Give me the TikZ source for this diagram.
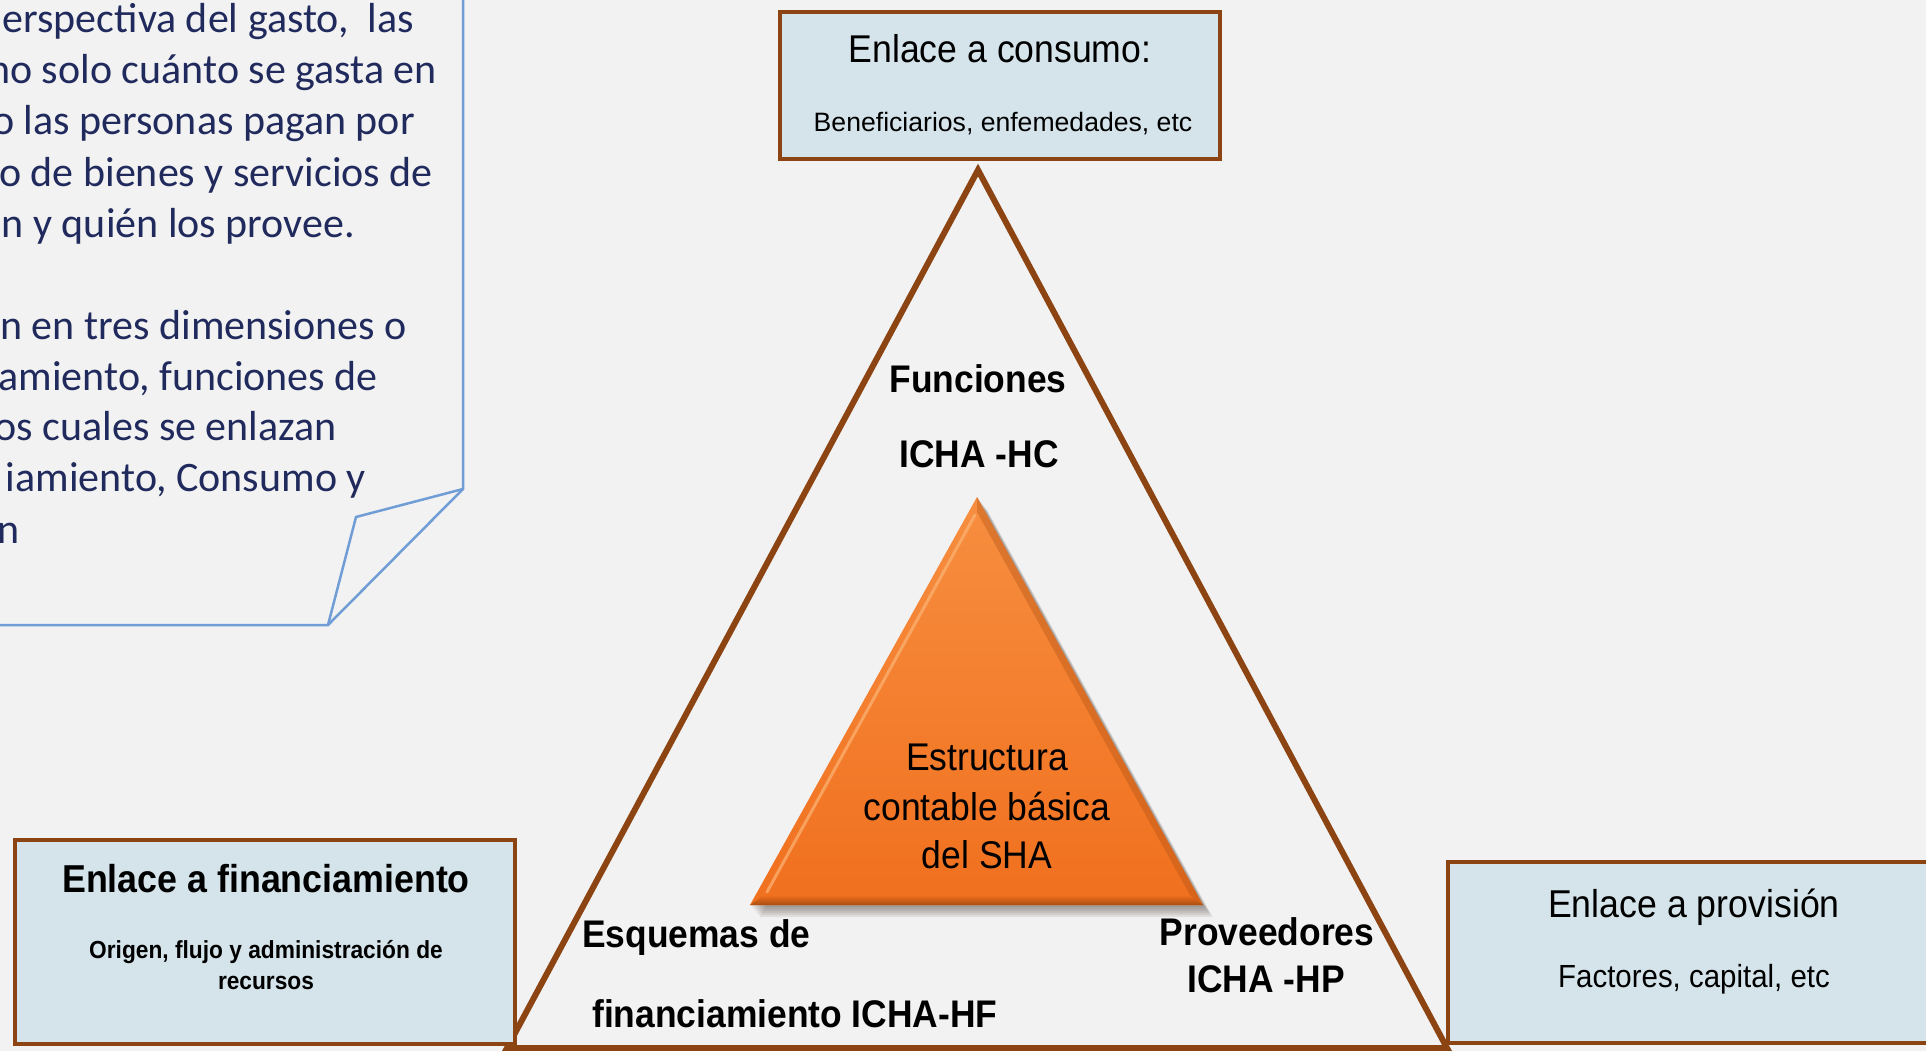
\documentclass[tikz,border=0pt]{standalone}
\usepackage{fontspec}
\setmainfont{Liberation Sans}
\newfontfamily\calib{Carlito}
\newfontfamily\nar[FakeStretch=0.92]{Liberation Sans}
\definecolor{bgc}{RGB}{242,242,242}
\definecolor{boxfill}{RGB}{213,228,234}
\definecolor{brownc}{RGB}{140,68,18}
\definecolor{callc}{RGB}{112,157,214}
\definecolor{navy}{RGB}{32,42,92}
\definecolor{orTop}{RGB}{247,142,64}
\definecolor{orBot}{RGB}{240,112,30}
\definecolor{orDark}{RGB}{170,78,18}
\definecolor{orLight}{RGB}{252,180,118}
\definecolor{shad}{RGB}{60,45,35}
\newcommand\fz[1]{\fontsize{#1pt}{#1pt}\selectfont}
\begin{document}
\begin{tikzpicture}[x=1pt,y=-1pt,
  linkbox/.style={draw=brownc, line width=4pt, fill=boxfill, inner sep=0pt},
  calltext/.style={anchor=base east, inner sep=0pt, text=navy, font=\calib\fz{42}},
  lbl/.style={anchor=base, inner sep=0pt, text=black},
  bigtri/.style={draw=brownc, line width=6pt, line join=miter},
]
\useasboundingbox (0,0) rectangle (1926,1051);
\fill[bgc] (0,0) rectangle (1926,1051);

% ---------------- callout (cut at the left) ----------------
\begin{scope}
\clip (0,0) rectangle (1926,1051);
\draw[callc, line width=2.5pt, line join=miter] (463,-10) -- (463,489) -- (328,625) -- (-10,625);
\draw[callc, line width=2.5pt, line join=miter] (463,489) -- (356,517) -- (328,625);
\node[calltext] (c1) at (414,33) {erspectiva del gasto,\ \ las};
\node[calltext] (c2) at (437,84) {no solo cuánto se gasta en};
\node[calltext] (c3) at (415,135) {o las personas pagan por};
\node[calltext] (c4) at (433,186) {o de bienes y servicios de};
\node[calltext] (c5) at (355,237) {n y quién los provee.};
\node[calltext] (c7) at (407,339) {n en tres dimensiones o};
\node[calltext] (c8) at (378,390) {amiento, funciones de};
\node[calltext] (c9) at (337,440) {os cuales se enlazan};
\node[calltext] (c10) at (366,491) {iamiento, Consumo y};
\node[calltext] (c11) at (20,543) {n};
\end{scope}

% ---------------- big triangle ----------------
\coordinate (tA) at (978,170);
\coordinate (tB) at (507,1048);
\coordinate (tC) at (1447,1048);
\draw[bigtri] (tA) -- (tB) -- (tC) -- cycle;

% ---------------- inner orange triangle ----------------
\foreach \k in {2,4,6,8,10,12}
  \fill[shad, opacity=0.09, shift={(\k*0.8,\k)}] (977,497) -- (750,905) -- (1203,905) -- cycle;
\coordinate (iA) at (977,497);
\coordinate (iB) at (750,905);
\coordinate (iC) at (1203,905);
\shade[top color=orTop, bottom color=orBot] (iA) -- (iB) -- (iC) -- cycle;
\shade[top color=orBot, bottom color=orDark] (750,905) -- (1203,905) -- (1190,895) -- (764,895) -- cycle;
\fill[orDark, opacity=0.35] (977,497) -- (1203,905) -- (1190,895) -- (977,512) -- cycle;
\draw[orLight, line width=3pt, opacity=0.7, line cap=round] (975,515) -- (767,892);
\node[lbl, font=\nar\fz{38.6}] (e1) at (987,770) {Estructura};
\node[lbl, font=\nar\fz{38.6}] (e2) at (987,820) {contable básica};
\node[lbl, font=\nar\fz{38.6}] (e3) at (987,868) {del SHA};

% ---------------- labels in the big triangle ----------------
\node[lbl, font=\nar\bfseries\fz{38.5}] (fun) at (978,392) {Funciones};
\node[lbl, font=\nar\bfseries\fz{38.5}] (hc) at (979,467) {ICHA -HC};
\node[lbl, anchor=base west, font=\nar\bfseries\fz{38.5}] (esq) at (582,947) {Esquemas de};
\node[lbl, anchor=base west, font=\nar\bfseries\fz{38.5}] (fin) at (592,1027) {financiamiento ICHA-HF};
\node[lbl, font=\nar\bfseries\fz{38.5}] (prov) at (1267,945) {Proveedores};
\node[lbl, font=\nar\bfseries\fz{38.5}] (hp) at (1266,992) {ICHA -HP};

% ---------------- link boxes ----------------
\node[linkbox, minimum width=440pt, minimum height=147pt] (consumo) at (1000,85.5) {};
\node[lbl, font=\nar\fz{38.7}] (consT) at (1000,63) {Enlace a consumo:};
\node[lbl, font=\fz{26.6}] (consS) at (1003,132) {Beneficiarios, enfemedades, etc};

\node[linkbox, minimum width=500pt, minimum height=204pt] (financ) at (265,942) {};
\node[lbl, font=\nar\bfseries\fz{38.9}] (finT) at (266,892) {Enlace a financiamiento};
\node[lbl, font=\nar\bfseries\fz{24.7}] (finS1) at (266,958) {Origen, flujo y administración de};
\node[lbl, font=\nar\bfseries\fz{24.7}] (finS2) at (266,989) {recursos};

\node[linkbox, minimum width=492pt, minimum height=181pt] (provis) at (1694,952.5) {};
\node[lbl, font=\nar\fz{38.8}] (provT) at (1694,917) {Enlace a provisión};
\node[lbl, font=\nar\fz{32}] (provS) at (1694,987) {Factores, capital, etc};
\end{tikzpicture}
\end{document}
